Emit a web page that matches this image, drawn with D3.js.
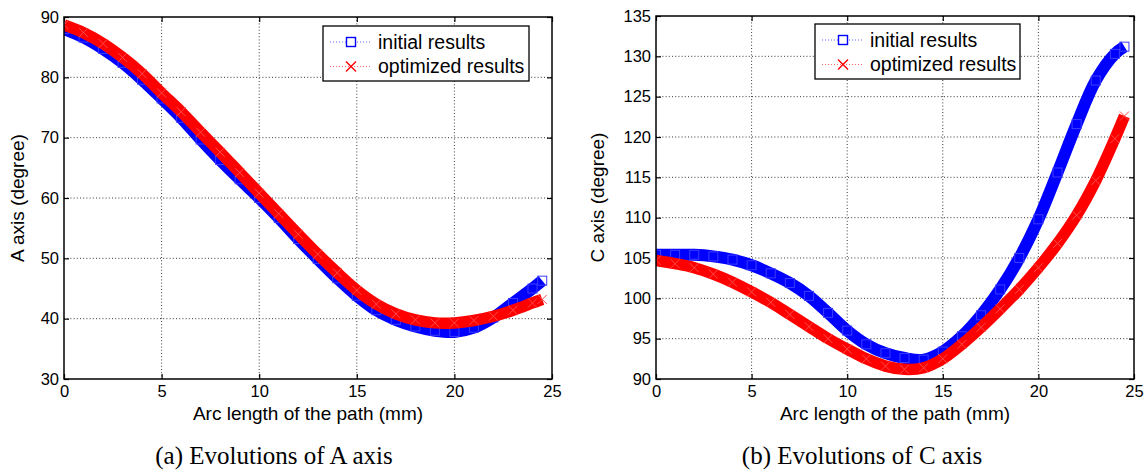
<!DOCTYPE html>
<html>
<head>
<meta charset="utf-8">
<script src="https://cdn.jsdelivr.net/npm/d3@7"></script>
<style>
  body { margin: 0; background: #fff; }
  svg { display: block; }
</style>
</head>
<body>
<svg id="fig" width="1146" height="471"></svg>
<script>
// arc length samples (mm)
const arcLen = [0,1,2,3,4,5,6,7,8,9,10,11,12,13,14,15,16,17,18,19,20,21,22,23,24,24.5];

// A axis (degree)
const aInitial   = [88.0,86.6,84.7,82.4,79.6,76.5,73.3,69.7,66.3,63.1,60.0,56.7,53.2,49.9,46.7,43.8,41.4,39.8,38.7,38.0,37.8,38.5,40.2,42.6,45.0,46.3];
const aOptimized = [88.7,87.4,85.6,83.3,80.6,77.4,74.3,70.9,67.6,64.2,60.8,57.4,54.0,50.7,47.6,44.7,42.4,40.8,39.8,39.3,39.3,39.7,40.4,41.4,42.6,43.2];

// C axis (degree)
const cInitial   = [105.4,105.4,105.4,105.2,104.8,104.1,103.1,101.9,100.3,98.2,96.0,94.3,93.2,92.6,92.4,93.4,95.3,97.9,101.1,105.0,109.8,115.6,121.6,127.0,130.3,131.2];
const cOptimized = [104.7,104.3,103.8,103.0,102.0,100.8,99.5,98.0,96.5,95.0,93.7,92.5,91.6,91.2,91.4,92.5,94.3,96.4,98.7,101.1,103.8,106.8,110.3,114.6,119.8,122.6];

const xTicks = [0,5,10,15,20,25];
const aTicks = [30,40,50,60,70,80,90];
const cTicks = [90,95,100,105,110,115,120,125,130,135];

const seriesNames = ["initial results", "optimized results"];
const captions = ["(a) Evolutions of A axis", "(b) Evolutions of C axis"];

const svg = d3.select("#fig");
const sans = "'Liberation Sans', Arial, Helvetica, sans-serif";

function drawPanel(p){
    const g = svg.append("g");
    const x = d3.scaleLinear().domain([0, 25]).range([p.left, p.right]);
    const y = d3.scaleLinear().domain(p.yDomain).range([p.bottom, p.top]);

    // dotted grid
    g.append("g").selectAll("line").data(xTicks.slice(1, -1)).join("line")
        .attr("x1", d => x(d)).attr("x2", d => x(d))
        .attr("y1", p.top).attr("y2", p.bottom)
        .attr("stroke", "#222").attr("stroke-width", 0.9).attr("stroke-dasharray", "1,2.2");
    g.append("g").selectAll("line").data(p.yTicks.slice(1, -1)).join("line")
        .attr("x1", p.left).attr("x2", p.right)
        .attr("y1", d => y(d)).attr("y2", d => y(d))
        .attr("stroke", "#222").attr("stroke-width", 0.9).attr("stroke-dasharray", "1,2.2");

    // axes, ticks pointing inward
    const axB = d3.axisBottom(x).tickValues(xTicks).tickSizeInner(-5).tickSizeOuter(0).tickPadding(6);
    const axT = d3.axisTop(x).tickValues(xTicks).tickSizeInner(-5).tickSizeOuter(0).tickFormat("");
    const axL = d3.axisLeft(y).tickValues(p.yTicks).tickSizeInner(-5).tickSizeOuter(0).tickPadding(5);
    const axR = d3.axisRight(y).tickValues(p.yTicks).tickSizeInner(-5).tickSizeOuter(0).tickFormat("");
    [[axB, `translate(0,${p.bottom})`], [axT, `translate(0,${p.top})`],
     [axL, `translate(${p.left},0)`], [axR, `translate(${p.right},0)`]].forEach(([ax, tr]) => {
        const a = g.append("g").attr("transform", tr).call(ax);
        a.select(".domain").remove();
        a.selectAll(".tick line").attr("stroke", "#000").attr("stroke-width", 1.2);
        a.selectAll(".tick text").attr("font-size", 16.5).attr("fill", "#000").attr("font-family", sans);
    });

    // curves
    const line = d3.line().x((d, i) => x(arcLen[i])).y(d => y(d)).curve(d3.curveCatmullRom);
    const clip = "clip" + p.id;
    svg.append("clipPath").attr("id", clip).append("rect")
        .attr("x", p.left).attr("y", p.top - 6).attr("width", p.right - p.left + 6).attr("height", p.bottom - p.top + 6);
    const cg = g.append("g").attr("clip-path", `url(#${clip})`);

    // initial: blue squares
    cg.append("path").datum(p.init).attr("d", line)
        .attr("fill", "none").attr("stroke", "#0000ff").attr("stroke-width", 12);
    cg.append("g").selectAll("rect").data(p.init).join("rect")
        .attr("x", (d, i) => x(arcLen[i]) - 4.5).attr("y", d => y(d) - 4.5)
        .attr("width", 9).attr("height", 9)
        .attr("fill", "none").attr("stroke", "#3c3cff").attr("stroke-width", 1);

    // optimized: red crosses
    cg.append("path").datum(p.opt).attr("d", line)
        .attr("fill", "none").attr("stroke", "#ff0000").attr("stroke-width", 11.5);
    cg.append("g").selectAll("path").data(p.opt).join("path")
        .attr("d", (d, i) => {
            const cx = x(arcLen[i]), cy = y(d), s = 4.5;
            return `M${cx - s},${cy - s}L${cx + s},${cy + s}M${cx - s},${cy + s}L${cx + s},${cy - s}`;
        })
        .attr("fill", "none").attr("stroke", "#ff4a4a").attr("stroke-width", 1);

    // box
    g.append("rect").attr("x", p.left).attr("y", p.top)
        .attr("width", p.right - p.left).attr("height", p.bottom - p.top)
        .attr("fill", "none").attr("stroke", "#000").attr("stroke-width", 1.5);

    // legend
    const L = p.legend;
    const lg = g.append("g");
    lg.append("rect").attr("x", L.x).attr("y", L.y).attr("width", L.w).attr("height", L.h)
        .attr("fill", "#fff").attr("stroke", "#000").attr("stroke-width", 1.3);
    const colors = ["#0000ff", "#ff0000"];
    seriesNames.forEach((name, i) => {
        const ry = L.y + 16 + i * 24.5;
        const lx0 = L.x + 7, lx1 = L.x + 49, mx = L.x + 28;
        lg.append("line").attr("x1", lx0).attr("x2", lx1).attr("y1", ry).attr("y2", ry)
            .attr("stroke", colors[i]).attr("stroke-width", 1).attr("stroke-dasharray", "1,2").attr("opacity", 0.6);
        if (i === 0) {
            lg.append("rect").attr("x", mx - 4.5).attr("y", ry - 4.5).attr("width", 9).attr("height", 9)
                .attr("fill", "#fff").attr("stroke", colors[i]).attr("stroke-width", 1.4);
        } else {
            lg.append("path").attr("d", `M${mx - 5},${ry - 5}L${mx + 5},${ry + 5}M${mx - 5},${ry + 5}L${mx + 5},${ry - 5}`)
                .attr("stroke", colors[i]).attr("stroke-width", 1.4);
        }
        lg.append("text").attr("x", L.x + 55).attr("y", ry).attr("dy", "0.35em")
            .attr("font-family", sans).attr("font-size", 19.5).text(name);
    });

    // axis titles
    g.append("text").attr("x", (p.left + p.right) / 2).attr("y", 420)
        .attr("text-anchor", "middle").attr("font-family", sans).attr("font-size", 19).text("Arc length of the path (mm)");
    g.append("text").attr("transform", `translate(${p.yLabelX},${(p.top + p.bottom) / 2}) rotate(-90)`)
        .attr("text-anchor", "middle").attr("font-family", sans).attr("font-size", 19).text(p.yLabel);

    // caption
    g.append("text").attr("x", p.capX).attr("y", 464)
        .attr("text-anchor", "middle").attr("font-family", "'Liberation Serif', 'Times New Roman', serif")
        .attr("font-size", 25).text(p.caption);
}

drawPanel({
    id: "a", left: 64, right: 552, top: 17, bottom: 379,
    yDomain: [30, 90], yTicks: aTicks, init: aInitial, opt: aOptimized,
    yLabel: "A axis (degree)", yLabelX: 24, caption: captions[0], capX: 274,
    legend: {x: 323, y: 26, w: 206, h: 55}
});
drawPanel({
    id: "c", left: 656, right: 1134, top: 16, bottom: 379,
    yDomain: [90, 135], yTicks: cTicks, init: cInitial, opt: cOptimized,
    yLabel: "C axis (degree)", yLabelX: 604, caption: captions[1], capX: 862,
    legend: {x: 815, y: 24, w: 205, h: 55}
});
</script>
</body>
</html>
